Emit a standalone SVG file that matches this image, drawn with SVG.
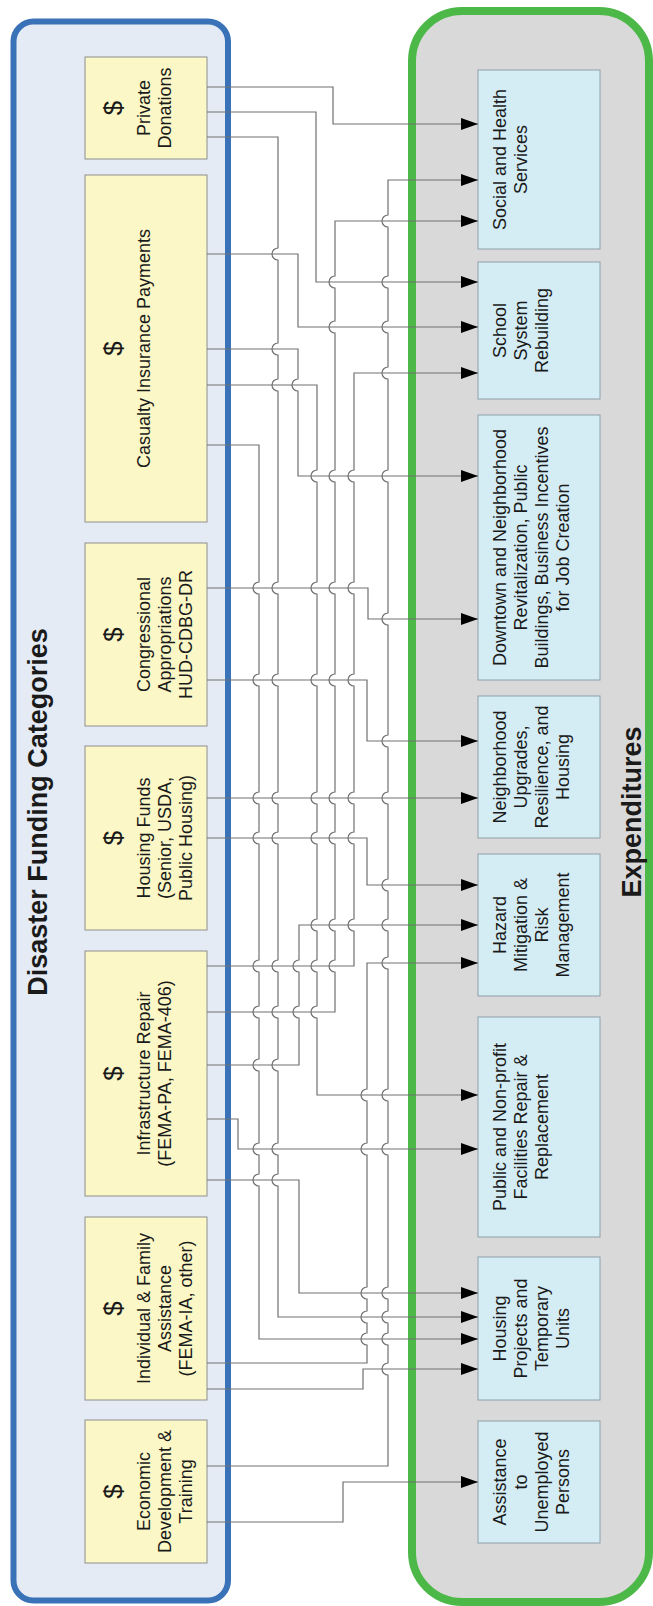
<svg xmlns="http://www.w3.org/2000/svg" width="653" height="1606" viewBox="0 0 653 1606">
<defs>
<style>
.conn{fill:none;stroke:#707070;stroke-width:1.2;marker-end:url(#arrow)}
.fund rect{fill:#fbf7c6;stroke:#8e8e8e;stroke-width:1}
.exp rect{fill:#d4ecf4;stroke:#8fa0aa;stroke-width:1}
.t{font-family:"Liberation Sans",Arial,sans-serif;font-size:18px;fill:#1a1a1a;text-anchor:middle}
.d{font-size:26px}
.title{font-family:"Liberation Sans",Arial,sans-serif;font-weight:bold;font-size:27px;fill:#1a1a1a;text-anchor:middle}
</style>
<marker id="arrow" markerUnits="userSpaceOnUse" markerWidth="18" markerHeight="12" refX="17" refY="6" orient="auto"><path d="M0,0 L17,6 L0,12 z" fill="#000"/></marker>
</defs>
<rect width="653" height="1606" fill="#fff"/>
<g id="funding-container">
<rect x="13.5" y="21.5" width="214.5" height="1579" rx="20" fill="#e4ebf5" stroke="#3a72b8" stroke-width="6"/>
<text class="title" transform="translate(47,812) rotate(-90)">Disaster Funding Categories</text>
</g>
<g id="expenditures-container">
<rect x="412" y="11" width="237" height="1591" rx="50" fill="#d9d9d9" stroke="#4cb848" stroke-width="8"/>
<text class="title" transform="translate(641,812) rotate(-90)">Expenditures</text>
</g>
<g id="fund-private" class="fund"><rect x="85" y="57" width="122" height="102"/>
<text class="t" transform="translate(122,108) rotate(-90)"><tspan class="d" x="0" y="0">$</tspan><tspan x="0" y="28">Private</tspan><tspan x="0" y="49">Donations</tspan></text></g>
<g id="fund-casualty" class="fund"><rect x="85" y="175" width="122" height="347"/>
<text class="t" transform="translate(122,348.5) rotate(-90)"><tspan class="d" x="0" y="0">$</tspan><tspan x="0" y="28">Casualty Insurance Payments</tspan></text></g>
<g id="fund-congressional" class="fund"><rect x="85" y="543" width="122" height="183"/>
<text class="t" transform="translate(122,634.5) rotate(-90)"><tspan class="d" x="0" y="0">$</tspan><tspan x="0" y="28">Congressional</tspan><tspan x="0" y="49">Appropriations</tspan><tspan x="0" y="70">HUD-CDBG-DR</tspan></text></g>
<g id="fund-housing" class="fund"><rect x="85" y="746" width="122" height="184"/>
<text class="t" transform="translate(122,838) rotate(-90)"><tspan class="d" x="0" y="0">$</tspan><tspan x="0" y="28">Housing Funds</tspan><tspan x="0" y="49">(Senior, USDA,</tspan><tspan x="0" y="70">Public Housing)</tspan></text></g>
<g id="fund-infrastructure" class="fund"><rect x="85" y="951" width="122" height="245"/>
<text class="t" transform="translate(122,1073.5) rotate(-90)"><tspan class="d" x="0" y="0">$</tspan><tspan x="0" y="28">Infrastructure Repair</tspan><tspan x="0" y="49">(FEMA-PA, FEMA-406)</tspan></text></g>
<g id="fund-individual" class="fund"><rect x="85" y="1217" width="122" height="183"/>
<text class="t" transform="translate(122,1308.5) rotate(-90)"><tspan class="d" x="0" y="0">$</tspan><tspan x="0" y="28">Individual &amp; Family</tspan><tspan x="0" y="49">Assistance</tspan><tspan x="0" y="70">(FEMA-IA, other)</tspan></text></g>
<g id="fund-economic" class="fund"><rect x="85" y="1420" width="122" height="143"/>
<text class="t" transform="translate(122,1491.5) rotate(-90)"><tspan class="d" x="0" y="0">$</tspan><tspan x="0" y="28">Economic</tspan><tspan x="0" y="49">Development &amp;</tspan><tspan x="0" y="70">Training</tspan></text></g>
<g id="exp-social" class="exp"><rect x="478" y="70" width="122" height="179"/>
<text class="t" transform="translate(506,159.5) rotate(-90)"><tspan x="0" y="0">Social and Health</tspan><tspan x="0" y="21">Services</tspan></text></g>
<g id="exp-school" class="exp"><rect x="478" y="262" width="122" height="137"/>
<text class="t" transform="translate(506,330.5) rotate(-90)"><tspan x="0" y="0">School</tspan><tspan x="0" y="21">System</tspan><tspan x="0" y="42">Rebuilding</tspan></text></g>
<g id="exp-downtown" class="exp"><rect x="478" y="415" width="122" height="265"/>
<text class="t" transform="translate(506,547.5) rotate(-90)"><tspan x="0" y="0">Downtown and Neighborhood</tspan><tspan x="0" y="21">Revitalization, Public</tspan><tspan x="0" y="42">Buildings, Business Incentives</tspan><tspan x="0" y="63">for Job Creation</tspan></text></g>
<g id="exp-neighborhood" class="exp"><rect x="478" y="696" width="122" height="142"/>
<text class="t" transform="translate(506,767) rotate(-90)"><tspan x="0" y="0">Neighborhood</tspan><tspan x="0" y="21">Upgrades,</tspan><tspan x="0" y="42">Resilience, and</tspan><tspan x="0" y="63">Housing</tspan></text></g>
<g id="exp-hazard" class="exp"><rect x="478" y="854" width="122" height="142"/>
<text class="t" transform="translate(506,925) rotate(-90)"><tspan x="0" y="0">Hazard</tspan><tspan x="0" y="21">Mitigation &amp;</tspan><tspan x="0" y="42">Risk</tspan><tspan x="0" y="63">Management</tspan></text></g>
<g id="exp-public" class="exp"><rect x="478" y="1017" width="122" height="220"/>
<text class="t" transform="translate(506,1127) rotate(-90)"><tspan x="0" y="0">Public and Non-profit</tspan><tspan x="0" y="21">Facilities Repair &amp;</tspan><tspan x="0" y="42">Replacement</tspan></text></g>
<g id="exp-housing" class="exp"><rect x="478" y="1257" width="122" height="143"/>
<text class="t" transform="translate(506,1328.5) rotate(-90)"><tspan x="0" y="0">Housing</tspan><tspan x="0" y="21">Projects and</tspan><tspan x="0" y="42">Temporary</tspan><tspan x="0" y="63">Units</tspan></text></g>
<g id="exp-unemployed" class="exp"><rect x="478" y="1421" width="122" height="122"/>
<text class="t" transform="translate(506,1482) rotate(-90)"><tspan x="0" y="0">Assistance</tspan><tspan x="0" y="21">to</tspan><tspan x="0" y="42">Unemployed</tspan><tspan x="0" y="63">Persons</tspan></text></g>
<g id="connectors">
<path class="conn" d="M207,87 H333 V124 H478"/>
<path class="conn" d="M207,112 H316 V282 H478"/>
<path class="conn" d="M207,137 H278 V248 A6,6 0 0 0 278,260 V343 A6,6 0 0 0 278,355 V379 A6,6 0 0 0 278,391 V582 A6,6 0 0 0 278,594 V674 A6,6 0 0 0 278,686 V792 A6,6 0 0 0 278,804 V832 A6,6 0 0 0 278,844 V960 A6,6 0 0 0 278,972 V1006 A6,6 0 0 0 278,1018 V1059 A6,6 0 0 0 278,1071 V1143 A6,6 0 0 0 278,1155 V1174 A6,6 0 0 0 278,1186 V1317 H478"/>
<path class="conn" d="M207,254 H298 V327 H478"/>
<path class="conn" d="M207,349 H298 V379 A6,6 0 0 0 298,391 V476 H478"/>
<path class="conn" d="M207,385 H317 V470 A6,6 0 0 0 317,482 V582 A6,6 0 0 0 317,594 V674 A6,6 0 0 0 317,686 V792 A6,6 0 0 0 317,804 V832 A6,6 0 0 0 317,844 V919 A6,6 0 0 0 317,931 V960 A6,6 0 0 0 317,972 V1006 A6,6 0 0 0 317,1018 V1095 H478"/>
<path class="conn" d="M207,445 H259 V582 A6,6 0 0 0 259,594 V674 A6,6 0 0 0 259,686 V792 A6,6 0 0 0 259,804 V832 A6,6 0 0 0 259,844 V960 A6,6 0 0 0 259,972 V1006 A6,6 0 0 0 259,1018 V1059 A6,6 0 0 0 259,1071 V1143 A6,6 0 0 0 259,1155 V1174 A6,6 0 0 0 259,1186 V1339 H478"/>
<path class="conn" d="M207,588 H368 V619 H478"/>
<path class="conn" d="M207,680 H367 V741 H478"/>
<path class="conn" d="M207,798 H478"/>
<path class="conn" d="M207,838 H367 V885 H478"/>
<path class="conn" d="M207,966 H354 V931 A6,6 0 0 1 354,919 V844 A6,6 0 0 1 354,832 V804 A6,6 0 0 1 354,792 V686 A6,6 0 0 1 354,674 V594 A6,6 0 0 1 354,582 V482 A6,6 0 0 1 354,470 V373 H478"/>
<path class="conn" d="M207,1012 H335 V972 A6,6 0 0 1 335,960 V931 A6,6 0 0 1 335,919 V844 A6,6 0 0 1 335,832 V804 A6,6 0 0 1 335,792 V686 A6,6 0 0 1 335,674 V594 A6,6 0 0 1 335,582 V482 A6,6 0 0 1 335,470 V333 A6,6 0 0 1 335,321 V288 A6,6 0 0 1 335,276 V221 H478"/>
<path class="conn" d="M207,1065 H299 V1018 A6,6 0 0 1 299,1006 V972 A6,6 0 0 1 299,960 V925 H478"/>
<path class="conn" d="M207,1119 H238 V1149 H478"/>
<path class="conn" d="M207,1180 H299 V1293 H478"/>
<path class="conn" d="M207,1363 H367 V1345 A6,6 0 0 1 367,1333 V1323 A6,6 0 0 1 367,1311 V1299 A6,6 0 0 1 367,1287 V1155 A6,6 0 0 1 367,1143 V1101 A6,6 0 0 1 367,1089 V963 H478"/>
<path class="conn" d="M207,1389 H363 V1369 H478"/>
<path class="conn" d="M207,1466 H388 V1375 A6,6 0 0 1 388,1363 V1345 A6,6 0 0 1 388,1333 V1323 A6,6 0 0 1 388,1311 V1299 A6,6 0 0 1 388,1287 V1155 A6,6 0 0 1 388,1143 V1101 A6,6 0 0 1 388,1089 V969 A6,6 0 0 1 388,957 V931 A6,6 0 0 1 388,919 V891 A6,6 0 0 1 388,879 V804 A6,6 0 0 1 388,792 V747 A6,6 0 0 1 388,735 V625 A6,6 0 0 1 388,613 V482 A6,6 0 0 1 388,470 V379 A6,6 0 0 1 388,367 V333 A6,6 0 0 1 388,321 V288 A6,6 0 0 1 388,276 V227 A6,6 0 0 1 388,215 V180 H478"/>
<path class="conn" d="M207,1522 H343 V1482 H478"/>
</g>
</svg>
